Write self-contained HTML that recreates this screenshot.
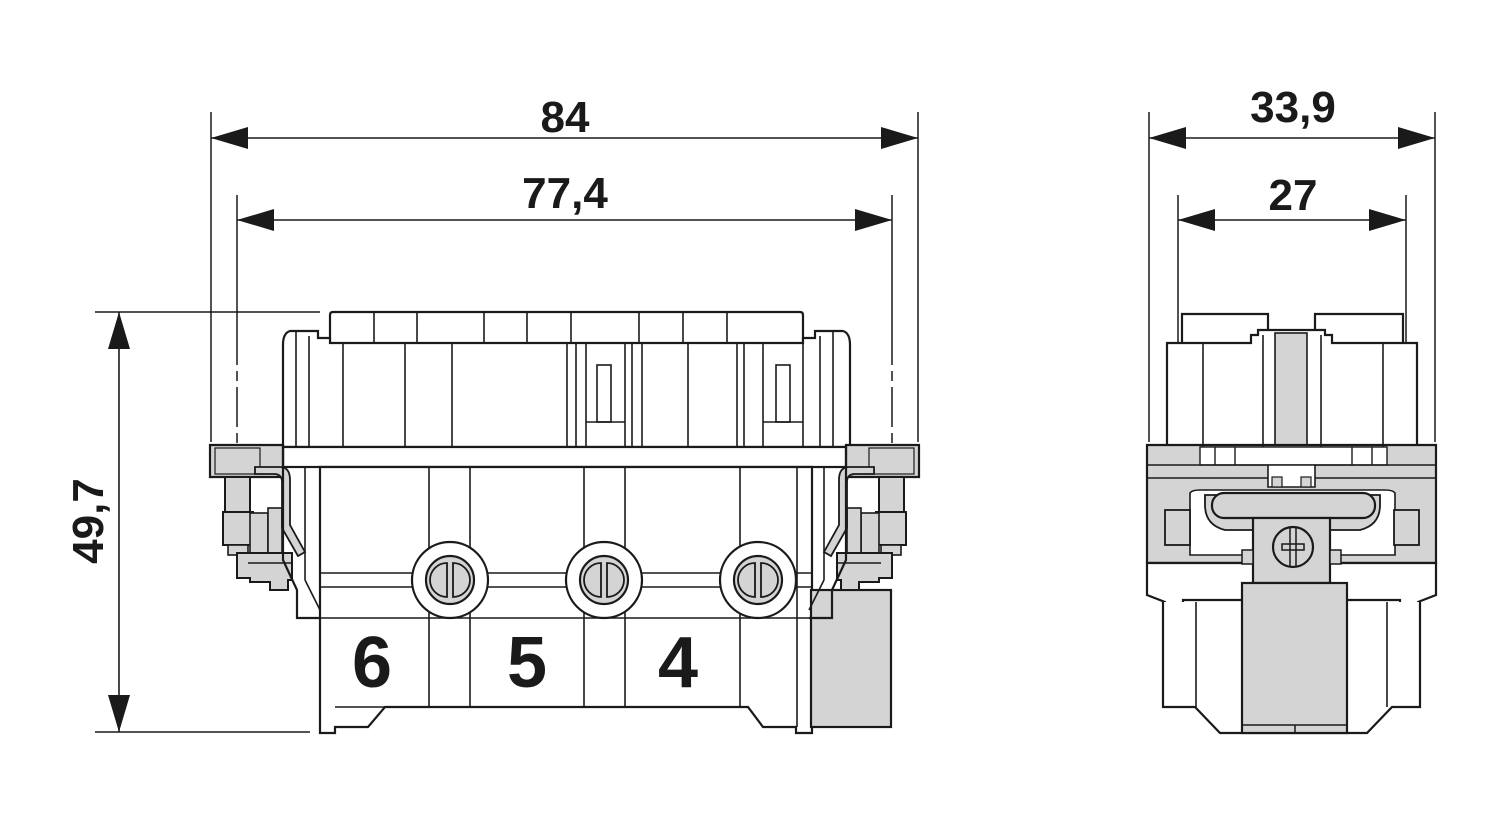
<!DOCTYPE html>
<html><head><meta charset="utf-8"><style>
html,body{margin:0;padding:0;background:#fff;}
svg{display:block;}
text{font-family:"Liberation Sans",Arial,sans-serif;font-weight:bold;fill:#1a1a1a;}
</style></head><body>
<svg width="1500" height="820" viewBox="0 0 1500 820" xmlns="http://www.w3.org/2000/svg">
<defs>
<g id="clamp">
  <path d="M210,445 L283,445 L283,477 L210,477 Z" fill="#d4d4d4" stroke="#1a1a1a" stroke-width="2.2"/>
  <rect x="215" y="448" width="45" height="26" fill="#d4d4d4" stroke="#1a1a1a" stroke-width="1.2"/>
  <rect x="225" y="477" width="25" height="35" fill="#d4d4d4" stroke="#1a1a1a" stroke-width="2"/>
  <rect x="223" y="512" width="30" height="33" fill="#d4d4d4" stroke="#1a1a1a" stroke-width="2"/>
  <rect x="228" y="545" width="20" height="10" fill="#d4d4d4" stroke="#1a1a1a" stroke-width="1.6"/>
  <rect x="250" y="513" width="18" height="40" fill="#d4d4d4" stroke="#1a1a1a" stroke-width="1.6"/>
  <rect x="268" y="508" width="14" height="45" fill="#d4d4d4" stroke="#1a1a1a" stroke-width="1.6"/>
  <path d="M237,553 L292,553 L292,580 L288,580 L288,590 L270,590 L270,582 L250,582 L250,578 L237,578 Z" fill="#d4d4d4" stroke="#1a1a1a" stroke-width="2"/>
  <line x1="248" y1="563" x2="292" y2="563" stroke="#1a1a1a" stroke-width="1.5"/>
  <path d="M255,467 L280,467 Q290,467 290,480 L290,525 L305,552 L298,556 L282,528 L282,482 Q282,474 274,474 L255,474 Z" fill="#d4d4d4" stroke="#1a1a1a" stroke-width="1.8"/>
  <path d="M283,445 L283,560 L297,590 L297,618 L320,618" fill="none" stroke="#1a1a1a" stroke-width="2.2"/>
  <line x1="305" y1="467" x2="305" y2="580" stroke="#1a1a1a" stroke-width="1.6"/>
  <line x1="305" y1="580" x2="320" y2="610" stroke="#1a1a1a" stroke-width="1.6"/>
  <line x1="296" y1="330" x2="296" y2="447" stroke="#1a1a1a" stroke-width="1.6"/>
  <line x1="309" y1="336" x2="309" y2="447" stroke="#1a1a1a" stroke-width="1.6"/>
</g>
<g id="screwL">
  <circle r="38" fill="#fff" stroke="#1a1a1a" stroke-width="2.2"/>
  <circle r="24" fill="#d4d4d4" stroke="#1a1a1a" stroke-width="2.2"/>
  <path d="M-3,-17 A17,17 0 0 0 -3,17 Z" fill="none" stroke="#1a1a1a" stroke-width="1.8"/>
  <path d="M3,-17 A17,17 0 0 1 3,17 Z" fill="none" stroke="#1a1a1a" stroke-width="1.8"/>
</g>
</defs>

<g stroke="#1a1a1a" fill="none">
<line x1="211" y1="112" x2="211" y2="442" stroke-width="1.5"/>
<line x1="918" y1="112" x2="918" y2="442" stroke-width="1.5"/>
<line x1="211" y1="138" x2="918" y2="138" stroke-width="1.6"/>
<line x1="237" y1="195" x2="237" y2="470" stroke-width="1.5" stroke-dasharray="170,6,10,6,40,6,10,6"/>
<line x1="892" y1="195" x2="892" y2="470" stroke-width="1.5" stroke-dasharray="170,6,10,6,40,6,10,6"/>
<line x1="237" y1="220" x2="892" y2="220" stroke-width="1.6"/>
<line x1="95" y1="312" x2="320" y2="312" stroke-width="1.5"/>
<line x1="95" y1="732" x2="310" y2="732" stroke-width="1.5"/>
<line x1="119" y1="312" x2="119" y2="732" stroke-width="1.6"/>
<line x1="1149" y1="112" x2="1149" y2="442" stroke-width="1.5"/>
<line x1="1435" y1="112" x2="1435" y2="442" stroke-width="1.5"/>
<line x1="1149" y1="138" x2="1435" y2="138" stroke-width="1.6"/>
<line x1="1178" y1="195" x2="1178" y2="575" stroke-width="1.5" stroke-dasharray="170,6,10,6,40,6,10,6,60,6"/>
<line x1="1406" y1="195" x2="1406" y2="575" stroke-width="1.5" stroke-dasharray="170,6,10,6,40,6,10,6,60,6"/>
<line x1="1178" y1="220" x2="1406" y2="220" stroke-width="1.6"/>
</g>
<g fill="#1a1a1a">
<path d="M211,138 L248,127 L248,149 Z"/><path d="M918,138 L881,127 L881,149 Z"/>
<path d="M237,220 L274,209 L274,231 Z"/><path d="M892,220 L855,209 L855,231 Z"/>
<path d="M119,312 L108,349 L130,349 Z"/><path d="M119,732 L108,695 L130,695 Z"/>
<path d="M1149,138 L1186,127 L1186,149 Z"/><path d="M1435,138 L1398,127 L1398,149 Z"/>
<path d="M1178,220 L1215,209 L1215,231 Z"/><path d="M1406,220 L1369,209 L1369,231 Z"/>
</g>
<text x="565" y="132" font-size="44" text-anchor="middle">84</text>
<text x="565" y="208" font-size="44" text-anchor="middle">77,4</text>
<text x="1293" y="122" font-size="44" text-anchor="middle">33,9</text>
<text x="1293" y="210" font-size="44" text-anchor="middle">27</text>
<text transform="translate(103,521) rotate(-90)" font-size="44" text-anchor="middle">49,7</text>

<g stroke="#1a1a1a" stroke-width="2.2" fill="#fff">
  <path d="M330,343 L330,315 Q330,312 333,312 L800,312 Q803,312 803,315 L803,343"/>
  <path d="M283,447 L283,345 Q283,333 290,331 L318,331 L318,338 L330,338 L330,343 L803,343 L803,338 L815,338 L815,331 L843,331 Q850,333 850,345 L850,447 Z"/>
</g>
<g stroke="#1a1a1a" stroke-width="1.6">
  <line x1="374" y1="312" x2="374" y2="343"/><line x1="417" y1="312" x2="417" y2="343"/>
  <line x1="484" y1="312" x2="484" y2="343"/><line x1="527" y1="312" x2="527" y2="343"/>
  <line x1="571" y1="312" x2="571" y2="343"/><line x1="639" y1="312" x2="639" y2="343"/>
  <line x1="683" y1="312" x2="683" y2="343"/><line x1="727" y1="312" x2="727" y2="343"/>
  <line x1="343" y1="343" x2="343" y2="447"/><line x1="405" y1="343" x2="405" y2="447"/>
  <line x1="452" y1="343" x2="452" y2="447"/><line x1="567" y1="343" x2="567" y2="447"/>
  <line x1="576" y1="343" x2="576" y2="447"/><line x1="586" y1="343" x2="586" y2="447"/>
  <line x1="625" y1="343" x2="625" y2="447"/><line x1="632" y1="343" x2="632" y2="447"/>
  <line x1="642" y1="343" x2="642" y2="447"/><line x1="688" y1="343" x2="688" y2="447"/>
  <line x1="737" y1="343" x2="737" y2="447"/><line x1="744" y1="343" x2="744" y2="447"/>
  <line x1="763" y1="343" x2="763" y2="447"/><line x1="803" y1="343" x2="803" y2="447"/>
  <line x1="586" y1="422" x2="625" y2="422"/><line x1="763" y1="422" x2="803" y2="422"/>
  <rect x="597" y="365" width="14" height="57" fill="none"/>
  <rect x="776" y="365" width="14" height="57" fill="none"/>
</g>
<rect x="283" y="447" width="567" height="20" fill="#fff" stroke="#1a1a1a" stroke-width="2.2"/>
<path d="M320,467 L812,467 L812,733 L796,733 L796,727 L763,727 L748,707 L385,707 L368,727 L335,727 L335,733 L320,733 Z" fill="#fff" stroke="#1a1a1a" stroke-width="2.2"/>
<g stroke="#1a1a1a" stroke-width="1.6">
  <line x1="429" y1="467" x2="429" y2="707"/><line x1="470" y1="467" x2="470" y2="707"/>
  <line x1="584" y1="467" x2="584" y2="707"/><line x1="625" y1="467" x2="625" y2="707"/>
  <line x1="740" y1="467" x2="740" y2="707"/><line x1="797" y1="467" x2="797" y2="727"/>
  <line x1="320" y1="573" x2="812" y2="573"/><line x1="320" y1="587" x2="812" y2="587"/>
  <line x1="320" y1="618" x2="812" y2="618"/>
  <line x1="335" y1="707" x2="385" y2="707"/>
</g>
<rect x="811" y="590" width="80" height="137" fill="#d4d4d4" stroke="#1a1a1a" stroke-width="2.2"/>
<use href="#screwL" x="450" y="580"/>
<use href="#screwL" x="604" y="580"/>
<use href="#screwL" x="758" y="580"/>
<use href="#clamp"/>
<use href="#clamp" transform="translate(1129,0) scale(-1,1)"/>
<text x="372" y="687" font-size="72" text-anchor="middle">6</text>
<text x="527" y="687" font-size="72" text-anchor="middle">5</text>
<text x="678" y="687" font-size="72" text-anchor="middle">4</text>

<g stroke="#1a1a1a" stroke-width="2.2">
  <path d="M1182,343 L1182,314 L1268,314 L1268,330" fill="#fff"/>
  <path d="M1315,330 L1315,314 L1403,314 L1403,343" fill="#fff"/>
  <path d="M1167,447 L1167,343 L1251,343 L1251,335 L1258,335 L1258,330 L1325,330 L1325,335 L1332,335 L1332,343 L1417,343 L1417,447 Z" fill="#fff"/>
  <rect x="1275" y="333" width="32" height="114" fill="#d4d4d4" stroke-width="1.6"/>
  <path d="M1147,445 L1436,445 L1436,563 L1147,563 Z" fill="#d4d4d4"/>
  <rect x="1200" y="447" width="187" height="18" fill="#fff" stroke-width="1.4"/>
  <line x1="1215" y1="447" x2="1215" y2="465" stroke-width="1.4"/>
  <line x1="1235" y1="447" x2="1235" y2="465" stroke-width="1.4"/>
  <line x1="1352" y1="447" x2="1352" y2="465" stroke-width="1.4"/>
  <line x1="1372" y1="447" x2="1372" y2="465" stroke-width="1.4"/>
  <path d="M1268,465 L1268,487 L1315,487 L1315,465" fill="#fff" stroke-width="1.6"/>
  <rect x="1272" y="477" width="10" height="10" fill="#d4d4d4" stroke-width="1.2"/>
  <rect x="1301" y="477" width="10" height="10" fill="#d4d4d4" stroke-width="1.2"/>
  <path d="M1147,563 L1436,563 L1436,595 L1418,602 L1408,618 L1400,620 L1400,600 L1183,600 L1183,620 L1175,618 L1165,602 L1147,595 Z" fill="#fff"/>
  <path d="M1163,602 L1163,707 L1195,707 L1220,733 L1367,733 L1392,707 L1420,707 L1420,602" fill="#fff"/>
  <path d="M1190,493 Q1192,490 1200,490 L1385,490 Q1393,490 1395,493 L1395,555 L1190,555 Z" fill="#fff" stroke-width="1.6"/>
  <path d="M1205,505 Q1205,525 1225,530 L1253,530 L1253,583 L1330,583 L1330,530 L1360,530 Q1380,525 1380,505 L1380,495 L1205,495 Z" fill="#d4d4d4" stroke-width="1.8"/>
  <rect x="1212" y="493" width="163" height="25" rx="12" fill="#d4d4d4"/>
  <rect x="1253" y="518" width="77" height="65" fill="#d4d4d4"/>
  <circle cx="1293" cy="547" r="20" fill="#d4d4d4"/>
  <rect x="1282" y="544" width="22" height="6" fill="#d4d4d4" stroke-width="1.5"/>
  <line x1="1290" y1="528" x2="1290" y2="566" stroke-width="1.5"/>
  <line x1="1296" y1="528" x2="1296" y2="566" stroke-width="1.5"/>
  <rect x="1242" y="550" width="11" height="14" fill="#d4d4d4" stroke-width="1.5"/>
  <rect x="1330" y="550" width="11" height="14" fill="#d4d4d4" stroke-width="1.5"/>
  <rect x="1242" y="583" width="105" height="150" fill="#d4d4d4"/>
  <line x1="1242" y1="725" x2="1347" y2="725" stroke-width="1.5"/>
  <line x1="1295" y1="725" x2="1295" y2="733" stroke-width="1.5"/>
  <rect x="1165" y="510" width="25" height="35" fill="#d4d4d4" stroke-width="1.8"/>
  <rect x="1394" y="510" width="25" height="35" fill="#d4d4d4" stroke-width="1.8"/>
  <line x1="1147" y1="465" x2="1436" y2="465" stroke-width="1.6"/>
  <line x1="1147" y1="478" x2="1268" y2="478" stroke-width="1.6"/>
  <line x1="1315" y1="478" x2="1436" y2="478" stroke-width="1.6"/>
  <line x1="1196" y1="602" x2="1196" y2="707" stroke-width="1.6"/>
  <line x1="1387" y1="602" x2="1387" y2="707" stroke-width="1.6"/>
  <line x1="1203" y1="343" x2="1203" y2="447" stroke-width="1.6"/>
  <line x1="1383" y1="343" x2="1383" y2="447" stroke-width="1.6"/>
  <line x1="1263" y1="335" x2="1263" y2="447" stroke-width="1.6"/>
  <line x1="1321" y1="335" x2="1321" y2="447" stroke-width="1.6"/>
</g>
</svg>
</body></html>
